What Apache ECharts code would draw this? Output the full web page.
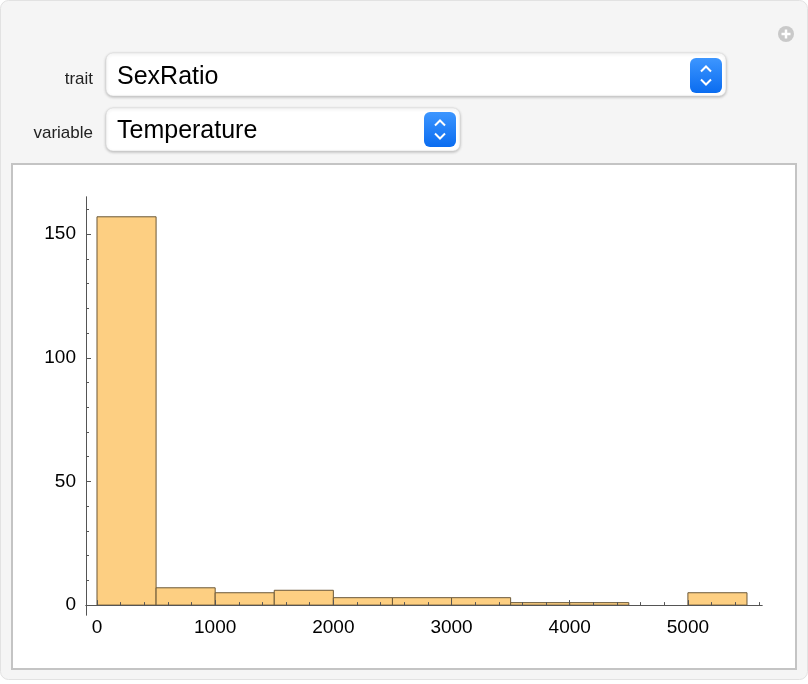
<!DOCTYPE html>
<html>
<head>
<meta charset="utf-8">
<script src="https://cdn.jsdelivr.net/npm/echarts@6/dist/echarts.min.js"></script>
<style>
html,body{margin:0;padding:0;background:#fff;}
#chart{width:808px;height:684px;}
</style>
</head>
<body>
<div id="chart"></div>
<script>
// ---- data ----
var binStarts = [0, 500, 1000, 1500, 2000, 2500, 3000, 3500, 4000, 4500, 5000];
var counts    = [157, 7, 5, 6, 3, 3, 3, 1, 1, 0, 5];
var binWidth = 500;
var xMajorTicks = [0, 1000, 2000, 3000, 4000, 5000];
var xMinorTicks = [200, 400, 600, 800, 1200, 1400, 1600, 1800, 2200, 2400, 2600, 2800, 3200, 3400, 3600, 3800, 4200, 4400, 4600, 4800, 5200, 5400, 5600];
var yMajorTicks = [0, 50, 100, 150];
var yMinorTicks = [10, 20, 30, 40, 60, 70, 80, 90, 110, 120, 130, 140, 160];
var traitLabel = 'trait', traitValue = 'SexRatio';
var variableLabel = 'variable', variableValue = 'Temperature';

var chart = echarts.init(document.getElementById('chart'));
var FONT = '"Liberation Sans", Arial, sans-serif';
var AXIS = '#555555';

var histData = binStarts.map(function (s, i) { return [s, counts[i]]; });

function chevrons(cx, cy) {
  return [
    {type:'polyline', z:20, shape:{points:[[cx-5,cy-4],[cx,cy-9],[cx+5,cy-4]]}, style:{stroke:'#fff', lineWidth:2, fill:null}},
    {type:'polyline', z:20, shape:{points:[[cx-5,cy+4],[cx,cy+9],[cx+5,cy+4]]}, style:{stroke:'#fff', lineWidth:2, fill:null}}
  ];
}
function blueGrad() {
  return new echarts.graphic.LinearGradient(0,0,0,1,[{offset:0,color:'#3d96ff'},{offset:1,color:'#0a6cf0'}]);
}

var graphics = [
  {type:'rect', z:-10, shape:{x:0.5,y:0.5,width:807,height:679,r:8}, style:{fill:'#f5f5f5', stroke:'#e2e2e2', lineWidth:1}},
  {type:'rect', z:-9, shape:{x:12,y:164,width:784,height:505}, style:{fill:'#fff', stroke:'#c4c4c4', lineWidth:2}},
  // plus icon
  {type:'circle', z:5, shape:{cx:786, cy:34, r:8}, style:{fill:'#c9c9c9'}},
  {type:'line', z:6, shape:{x1:781.5,y1:34,x2:790.5,y2:34}, style:{stroke:'#fff', lineWidth:2.5}},
  {type:'line', z:6, shape:{x1:786,y1:29.5,x2:786,y2:38.5}, style:{stroke:'#fff', lineWidth:2.5}},
  // labels
  {type:'text', z:10, style:{text:traitLabel, x:93, y:79, align:'right', verticalAlign:'middle', font:'17px ' + FONT, fill:'#222'}},
  {type:'text', z:10, style:{text:variableLabel, x:93, y:133, align:'right', verticalAlign:'middle', font:'17px ' + FONT, fill:'#222'}},
  // dropdown 1
  {type:'rect', z:5, shape:{x:106,y:53,width:620,height:43,r:7}, style:{fill:'#fff', stroke:'#d6d6d6', lineWidth:0.5, shadowBlur:3, shadowOffsetY:1, shadowColor:'rgba(0,0,0,0.25)'}},
  {type:'text', z:10, style:{text:traitValue, x:117, y:77, verticalAlign:'middle', font:'25px ' + FONT, fill:'#000'}},
  {type:'rect', z:8, shape:{x:690,y:58,width:32,height:35,r:6}, style:{fill:blueGrad()}},
  // dropdown 2
  {type:'rect', z:5, shape:{x:106,y:108,width:354,height:43,r:7}, style:{fill:'#fff', stroke:'#d6d6d6', lineWidth:0.5, shadowBlur:3, shadowOffsetY:1, shadowColor:'rgba(0,0,0,0.25)'}},
  {type:'text', z:10, style:{text:variableValue, x:117, y:131, verticalAlign:'middle', font:'25px ' + FONT, fill:'#000'}},
  {type:'rect', z:8, shape:{x:424,y:112,width:32,height:35,r:6}, style:{fill:blueGrad()}}
].concat(chevrons(706, 75.5)).concat(chevrons(440, 129.5));

function plain(v) { return String(v); }

function xAxisCfg(ticks, len, showLabel) {
  return {
    type:'value', min:-93, max:5627, position:'bottom', z:10,
    axisLine:{show:true, onZero:true, lineStyle:{color:AXIS, width:1}},
    axisTick:{show:true, inside:true, length:len, customValues:ticks, lineStyle:{color:AXIS, width:1}},
    axisLabel:{show:showLabel, customValues:ticks, formatter:plain, fontSize:19, color:'#000', fontFamily:FONT, margin:3},
    splitLine:{show:false}, minorTick:{show:false}
  };
}
function yAxisCfg(ticks, len, showLabel) {
  return {
    type:'value', min:-4, max:165, position:'left', z:10,
    axisLine:{show:true, onZero:false, lineStyle:{color:AXIS, width:1}},
    axisTick:{show:true, inside:true, length:len, customValues:ticks, lineStyle:{color:AXIS, width:1}},
    axisLabel:{show:showLabel, customValues:ticks, formatter:plain, fontSize:19, color:'#000', fontFamily:FONT, margin:10},
    splitLine:{show:false}, minorTick:{show:false}
  };
}

chart.setOption({
  animation:false,
  backgroundColor:'#fff',
  graphic:{elements:graphics},
  grid:{left:86, right:46, top:197, bottom:69, containLabel:false},
  xAxis:[xAxisCfg(xMajorTicks, 5, true), xAxisCfg(xMinorTicks, 3, false)],
  yAxis:[yAxisCfg(yMajorTicks, 5, true), yAxisCfg(yMinorTicks, 3, false)],
  series:[{
    type:'custom',
    xAxisIndex:0, yAxisIndex:0,
    data:histData,
    z:2,
    renderItem:function (params, api) {
      var x0 = api.value(0), h = api.value(1);
      if (!h) return null;
      var p0 = api.coord([x0, h]);
      var p1 = api.coord([x0 + binWidth, 0]);
      return {type:'rect',
        shape:{x:p0[0], y:p0[1], width:p1[0]-p0[0], height:p1[1]-p0[1]},
        style:{fill:'#fdcf82', stroke:'#6b5838', lineWidth:1}};
    }
  }]
});
</script>
</body>
</html>
